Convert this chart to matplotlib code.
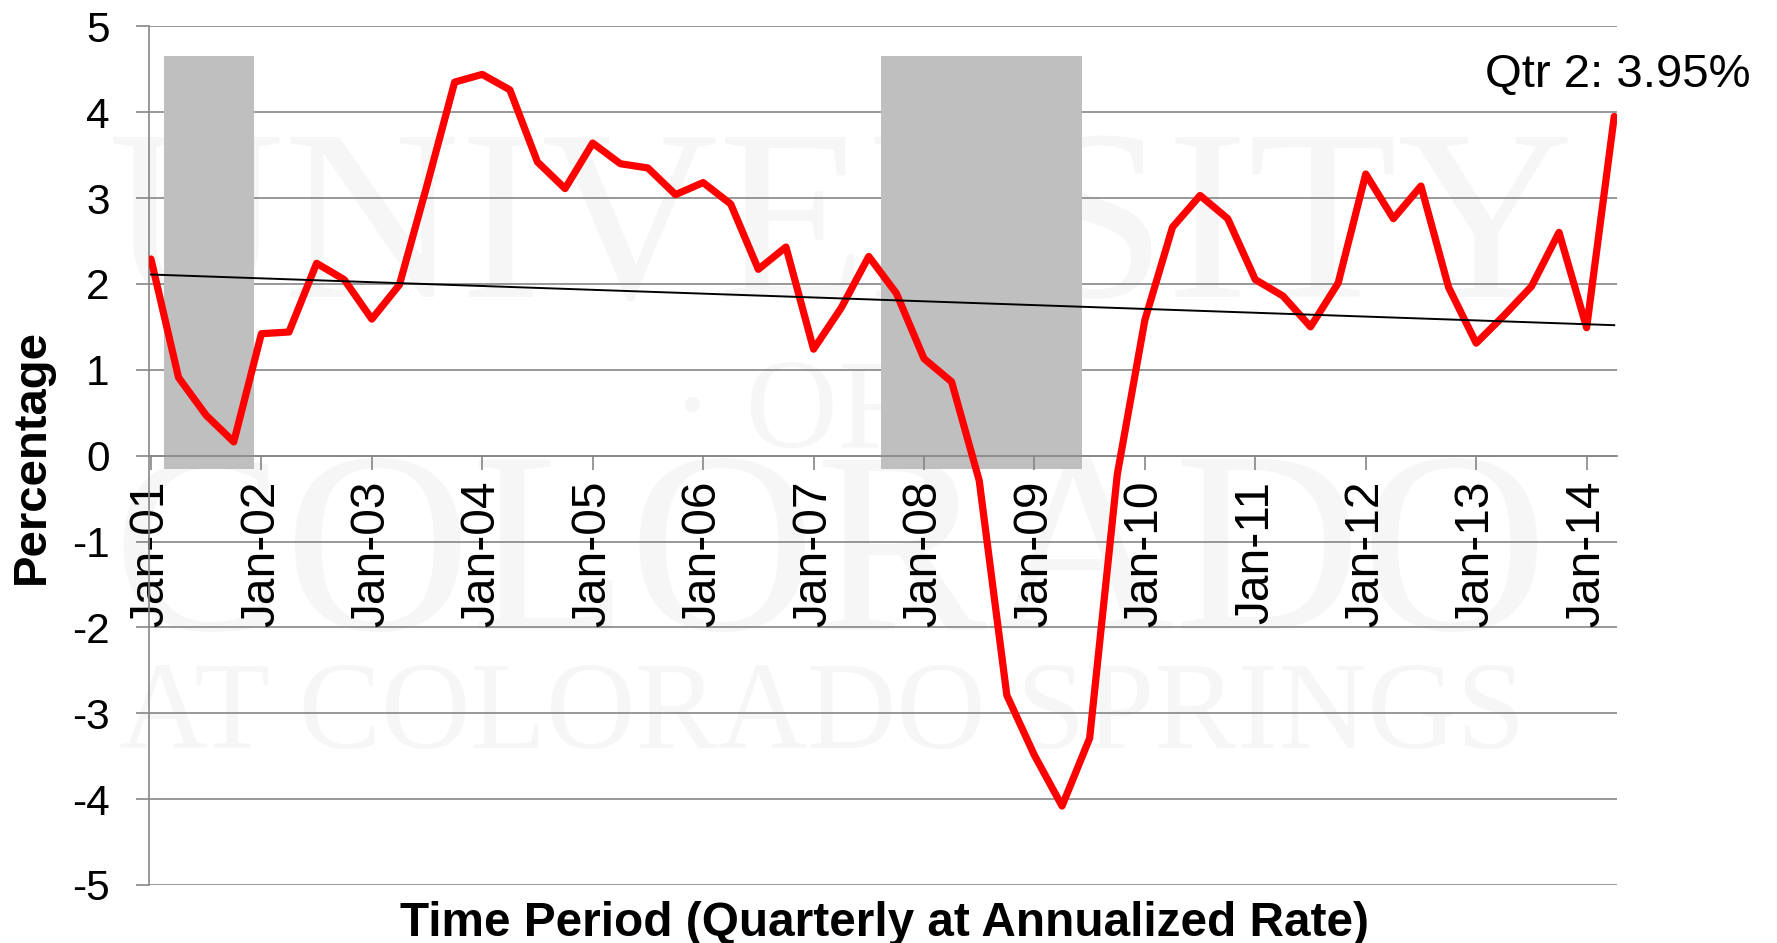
"""
Real GDP growth, quarterly at annualized rate, 2001 Q1 - 2014 Q2,
with recession shading and a linear trend line.
"""
import matplotlib
matplotlib.use("agg")  # noqa: E402
import matplotlib.pyplot as plt
import numpy as np

# Quarter index 0 = 2001 Q1 ... 53 = 2014 Q2
quarters = list(range(54))
growth_pct = [
    2.29, 0.91, 0.47, 0.16, 1.42, 1.44, 2.24, 2.05, 1.59, 1.99,
    3.15, 4.35, 4.44, 4.26, 3.42, 3.11, 3.64, 3.40, 3.35, 3.04,
    3.18, 2.93, 2.17, 2.43, 1.24, 1.72, 2.32, 1.89, 1.13, 0.86,
    -0.29, -2.79, -3.49, -4.08, -3.29, -0.22, 1.58, 2.66, 3.03, 2.76,
    2.05, 1.86, 1.50, 2.01, 3.28, 2.76, 3.14, 1.96, 1.31, 1.63,
    1.97, 2.60, 1.49, 3.95,
]
tick_quarters = list(range(0, 54, 4))
tick_labels = ["Jan-01", "Jan-02", "Jan-03", "Jan-04", "Jan-05", "Jan-06",
               "Jan-07", "Jan-08", "Jan-09", "Jan-10", "Jan-11", "Jan-12",
               "Jan-13", "Jan-14"]

# Recession shading (in quarter-index units)
recession_start = [0.48, 26.45]
recession_end = [3.75, 33.72]
recession_low = -0.16
recession_high = 4.65

latest_label = "Qtr 2: 3.95%"

GRID = "#868686"
W, H = 1777, 943

plt.rcParams['font.family'] = ['Liberation Sans', 'DejaVu Sans']

fig = plt.figure(figsize=(W / 100, H / 100), dpi=100)
ax = fig.add_axes([149 / W, 1 - 885 / H, 1468 / W, (885 - 26.3) / H])
ax.set_facecolor("none")

# Faint university watermark behind the chart
wm = dict(transform=fig.transFigure, color="#f6f6f6", ha="center",
          va="baseline", family=["Liberation Serif", "DejaVu Serif"],
          zorder=0.1, clip_on=False)
ax.text(841 / W, 1 - 297 / H, "UNIVERSITY", fontsize=176, **wm)
ax.text(790 / W, 1 - 447 / H, "\u00b7 OF", fontsize=92, **wm)
ax.text(830 / W, 1 - 629 / H, "COLORADO", fontsize=186, **wm)
ax.text(822 / W, 1 - 748 / H, "AT COLORADO SPRINGS", fontsize=89, **wm)

ax.set_xlim(-0.07, 53.1)
ax.set_ylim(-5, 5)

# horizontal gridlines under the recession boxes
yticks = np.arange(-5, 6)
ax.hlines(yticks, -0.07, 53.1, colors=GRID, linewidth=1.2, zorder=0.5)

for x0, x1 in zip(recession_start, recession_end):
    ax.fill_between([x0, x1], recession_low, recession_high,
                    color="#bfbfbf", linewidth=0, zorder=1)

ax.plot(quarters, growth_pct, color="#ff0000", linewidth=5.2,
        solid_joinstyle="round", solid_capstyle="round", zorder=3)

# linear trend line
coef = np.polyfit(quarters, growth_pct, 1)
trend = np.polyval(coef, [quarters[0], quarters[-1]])
ax.plot([quarters[0], quarters[-1]], trend, color="black", linewidth=1.4,
        zorder=4)

for side in ("top", "right"):
    ax.spines[side].set_visible(False)
ax.spines["left"].set_color(GRID)
ax.spines["left"].set_linewidth(1.2)
ax.spines["bottom"].set_position(("data", 0))
ax.spines["bottom"].set_color(GRID)
ax.spines["bottom"].set_linewidth(1.2)

ax.set_yticks(yticks)
ax.set_yticklabels([str(v) for v in yticks])
ax.set_xticks(tick_quarters)
ax.set_xticklabels(tick_labels, rotation=90)
ax.tick_params(axis="y", direction="out", length=9.4, width=1.2,
               color=GRID, labelsize=30.5, pad=19)
ax.tick_params(axis="x", direction="out", length=10, width=1.2,
               color=GRID, labelsize=34.5, pad=8)

fig.text(32 / W, 1 - 456 / H, "Percentage", rotation=90, ha="center",
         va="center", fontsize=34, fontweight="bold")
fig.text(884 / W, 1 - 936 / H, "Time Period (Quarterly at Annualized Rate)",
         ha="center", va="baseline", fontsize=34.4, fontweight="bold")
fig.text(1485 / W, 1 - 87 / H, latest_label, ha="left", va="baseline",
         fontsize=34)

fig.savefig("out.png", dpi=100)
